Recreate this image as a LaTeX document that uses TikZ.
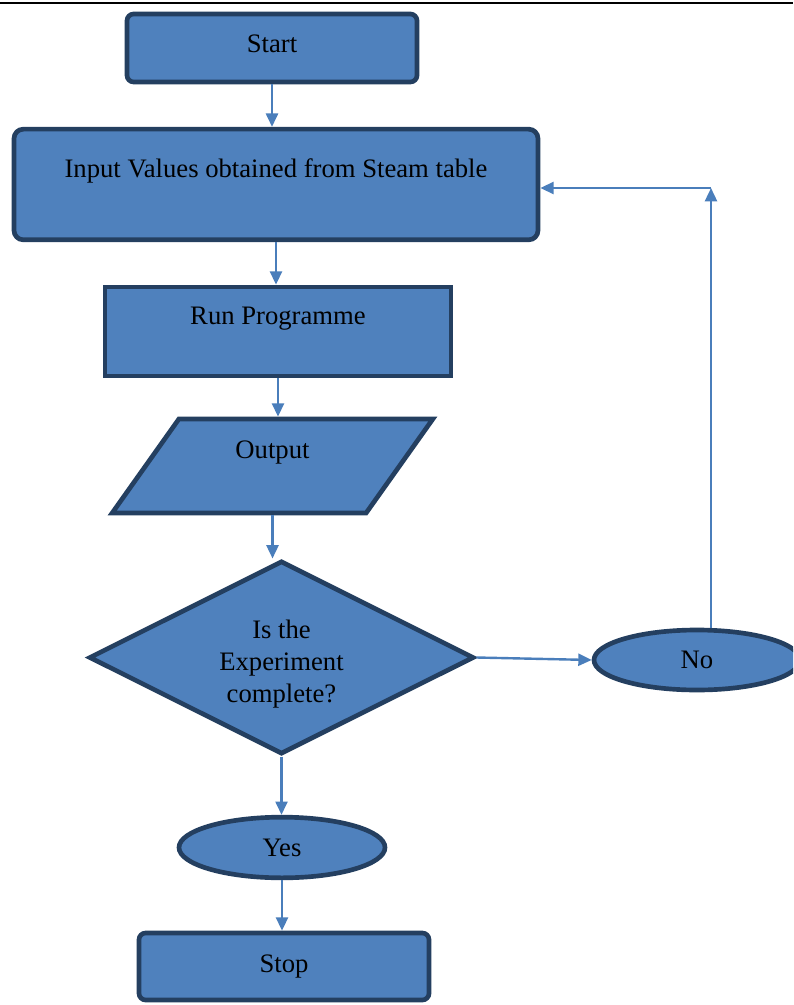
\documentclass[tikz,border=0pt]{standalone}
\usepackage{fontspec}
\setmainfont{Liberation Serif}
\usetikzlibrary{arrows.meta,shapes.geometric}
\definecolor{boxfill}{HTML}{4F81BD}
\definecolor{boxline}{HTML}{243F60}
\definecolor{flow}{HTML}{4A7EBB}
\tikzset{
  every node/.style={font=\fontsize{20}{24}\selectfont, text=black},
  block/.style={draw=boxline, line width=3.5pt, fill=boxfill, align=center, inner sep=0pt},
  terminal/.style={block, rounded corners=5pt},
  inout/.style={block, trapezium, trapezium left angle=62, trapezium right angle=118, trapezium stretches=true},
  decision/.style={block, diamond, shape aspect=2},
  oval/.style={block, ellipse},
  arrow/.style={-{Triangle[length=10pt,width=9pt]}, line width=1.8pt, draw=flow}
}

\begin{document}
\begin{tikzpicture}[x=0.75pt,y=-0.75pt]

\clip (0,0) rectangle (793,1005);
\fill[white] (0,0) rectangle (793,1005);
\draw[line width=1.5pt] (0,3) -- (793,3);

% Nodes
\node[terminal, minimum width=217.5pt, minimum height=51pt] (start) at (272,48) {Start\\[-18pt]\mbox{}};
\node[terminal, rounded corners=7pt, minimum width=393pt, minimum height=83pt] (input) at (276,184.5) {Input Values obtained from Steam table\\ \mbox{}};
\node[block, minimum width=259.5pt, minimum height=66.75pt] (run) at (278,331.5) {Run Programme\\ \mbox{}};
\node[inout, minimum width=240.75pt, minimum height=70.5pt] (output) at (272.5,466) {Output\\ \mbox{}};
\node[decision, minimum width=288.75pt, minimum height=145pt, text height=72pt] (check) at (281.5,657.5) {Is the\\Experiment\\complete?};
\node[oval, minimum width=154.5pt, minimum height=45pt] (no) at (697,660) {No};
\node[oval, minimum width=154.5pt, minimum height=45.5pt] (yes) at (282,847.5) {Yes};
\node[terminal, minimum width=217.5pt, minimum height=50.25pt] (stop) at (284,966.5) {Stop};
\coordinate (turn) at (711,188);

% Connectors
\draw[arrow] (start.south) -- (start.south |- input.north);
\draw[arrow] (input.south) -- (input.south |- run.north);
\draw[arrow] (run.south) -- (run.south |- output.north);
\draw[arrow] (output.south) -- (output.south |- check.north);
\draw[arrow] (check.east) -- (no.west);
\draw[arrow] (turn |- no.north) -- (turn);
\draw[arrow] (turn) -- (turn -| input.east);
\draw[arrow] (check.south) -- (check.south |- yes.north);
\draw[arrow] (yes.south) -- (yes.south |- stop.north);

\end{tikzpicture}
\end{document}
